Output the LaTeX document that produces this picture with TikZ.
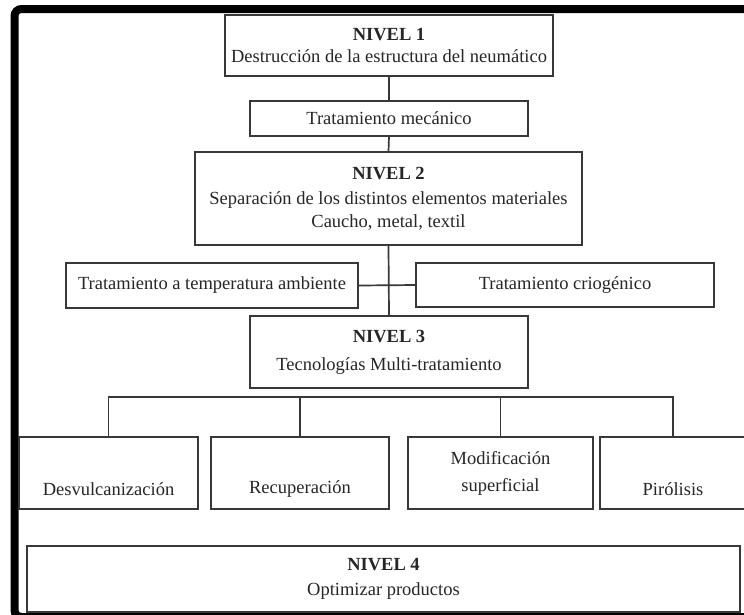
\documentclass[tikz,border=0pt]{standalone}
\usepackage{fontspec}
\setmainfont{Liberation Serif}
\begin{document}
\begin{tikzpicture}[x=1pt,y=-1pt,
  box/.style={draw=black!78, line width=1.7pt, inner sep=0pt, text=black!85, align=center,
    font=\fontsize{18.5}{25}\selectfont},
  conn/.style={draw=black!78, line width=1.7pt},
  frame/.style={draw=black, line width=8pt, rounded corners=7pt}
]
\clip (0,0) rectangle (744,614);
\fill[white] (0,0) rectangle (744,614);
% outer frame
\draw[frame] (14.5,9) rectangle (770,617);
% level boxes
\node[box, minimum width=328pt, minimum height=61pt] (n1) at (389,45.5)
  {\textbf{NIVEL 1}\\[-3pt]Destrucción de la estructura del neumático};
\node[box, minimum width=278pt, minimum height=35pt] (mec) at (389,118.5)
  {Tratamiento mecánico};
\node[box, minimum width=387pt, minimum height=93pt] (n2) at (388.5,198.5)
  {\textbf{NIVEL 2}\\Separación de los distintos elementos materiales\\[-2pt]Caucho, metal, textil};
\node[box, minimum width=292pt, minimum height=45pt] (amb) at (212,285.5)
  {Tratamiento a temperatura ambiente};
\node[box, minimum width=298pt, minimum height=44pt] (crio) at (565,285)
  {Tratamiento criogénico};
\node[box, minimum width=278pt, minimum height=72pt] (n3) at (389,352)
  {\textbf{NIVEL 3}\\[3pt]Tecnologías Multi-tratamiento};
% bottom row
\node[box, minimum width=179pt, minimum height=72pt] (d1) at (108.5,473)
  {\strut\\[2pt]Desvulcanización};
\node[box, minimum width=178pt, minimum height=72pt] (d2) at (300,473)
  {\strut\\[2pt]Recuperación};
\node[box, minimum width=185pt, minimum height=72pt] (d3) at (500.5,473)
  {Modificación\\[2pt]superficial};
\node[box, minimum width=146pt, minimum height=72pt] (d4) at (673,473)
  {\strut\\[2pt]Pirólisis};
\node[box, minimum width=713pt, minimum height=66pt] (n4) at (383.5,579)
  {\textbf{NIVEL 4}\\Optimizar productos};
% connectors
\draw[conn] (n1.south) -- (mec.north);
\draw[conn] (mec.south) -- (n2.north);
\draw[conn] (n2.south) -- (n3.north);
\draw[conn] (amb.east) -- (crio.west);
\coordinate (bar) at (389,397);
\draw[conn] (d1.north) |- (bar) -| (d4.north);
\draw[conn] (d2.north) -- (d2.north |- bar);
\draw[conn] (d3.north) -- (d3.north |- bar);
\end{tikzpicture}
\end{document}
